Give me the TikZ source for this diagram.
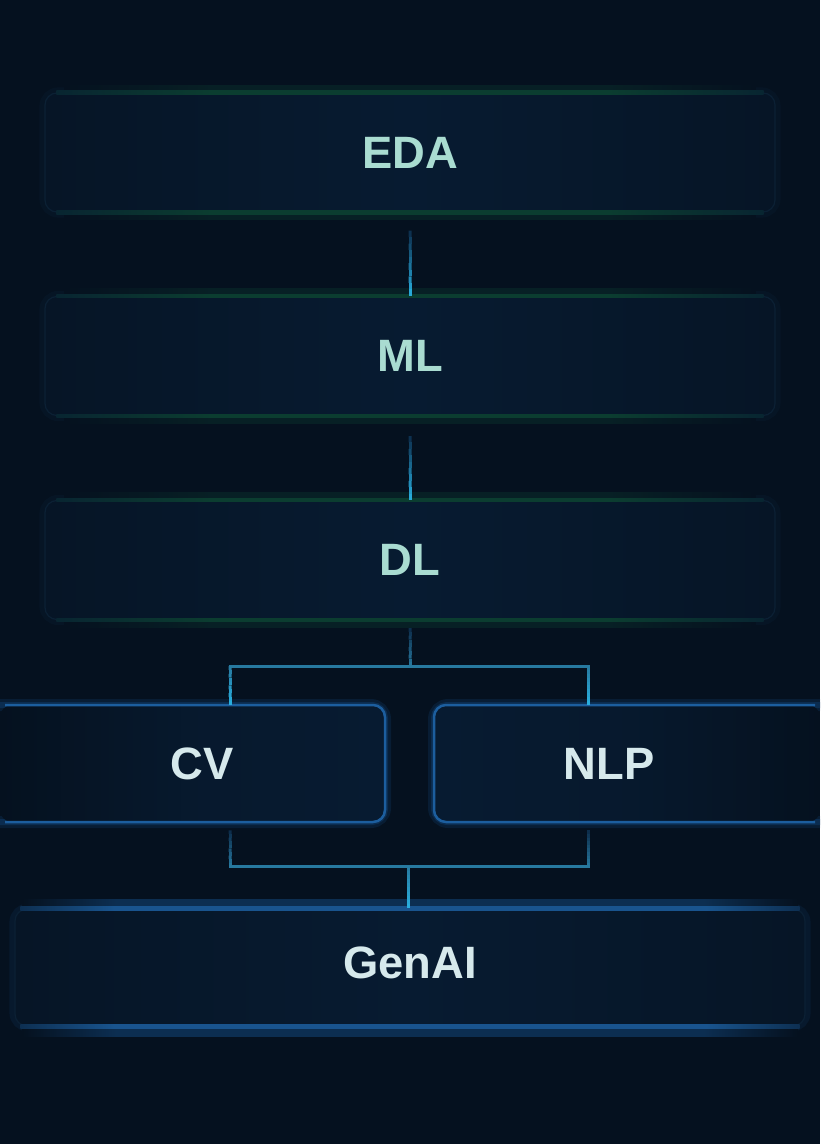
\documentclass[tikz,border=0pt]{standalone}
\usepackage{fontspec}
\setmainfont{Liberation Sans}
\usetikzlibrary{calc}
\definecolor{bg}{HTML}{05111F}
\definecolor{boxe}{HTML}{061526}
\definecolor{boxc}{HTML}{071B31}
\definecolor{boxline}{HTML}{0B2034}
\definecolor{grn}{HTML}{0B3D30}
\definecolor{mint}{HTML}{A9DCD1}
\definecolor{lighttxt}{HTML}{D6E9EC}
\definecolor{bborder}{HTML}{1C5E9E}
\definecolor{bglow}{HTML}{0F3A66}
\definecolor{cdark}{HTML}{0C2A48}
\definecolor{cmid}{HTML}{27799F}
\definecolor{cbright}{HTML}{29B0E0}
\colorlet{grnglow}{grn!35!bg}
\colorlet{grnedge}{grn!30!boxc}
\colorlet{bband}{bborder!85!boxc}
\colorlet{bbandedge}{bborder!30!boxc}
\colorlet{bglowband}{bglow!70!bg}
\pgfdeclarehorizontalshading{gbandsh}{100bp}{color(0bp)=(grnedge); color(25bp)=(grnedge); color(36bp)=(grn); color(64bp)=(grn); color(75bp)=(grnedge); color(100bp)=(grnedge)}
\pgfdeclarehorizontalshading{gglowsh}{100bp}{color(0bp)=(bg); color(25bp)=(bg); color(36bp)=(grnglow); color(64bp)=(grnglow); color(75bp)=(bg); color(100bp)=(bg)}
\pgfdeclarehorizontalshading{bbandsh}{100bp}{color(0bp)=(bbandedge); color(25bp)=(bbandedge); color(31bp)=(bband); color(69bp)=(bband); color(75bp)=(bbandedge); color(100bp)=(bbandedge)}
\pgfdeclarehorizontalshading{bglowsh}{100bp}{color(0bp)=(bg); color(25bp)=(bg); color(31bp)=(bglowband); color(69bp)=(bglowband); color(75bp)=(bg); color(100bp)=(bg)}
\def\px{0.75pt}
\pgfdeclarelayer{bgl}
\pgfdeclarelayer{glow}
\pgfdeclarelayer{boxl}
\pgfsetlayers{bgl,glow,boxl,main}
\newcommand\gline[4]{%
  \foreach \i in {0,...,9}{%
    \pgfmathsetmacro\aa{\i/10}%
    \pgfmathsetmacro\bb{(\i+1)/10}%
    \pgfmathtruncatemacro\mm{\i*10+5}%
    \draw[line width=3*\px, draw={#4!\mm!#3}] ($(#1)!\aa!(#2)$) -- ($(#1)!\bb!(#2)$);
  }%
}
\tikzset{
  lbl/.style={inner sep=0pt, font=\fontsize{34}{36}\selectfont\bfseries},
  topbox/.style={lbl, text=mint, minimum width=730*\px, minimum height=119*\px,
    rounded corners=12*\px, shade, left color=boxe, right color=boxe, middle color=boxc,
    draw=boxline, line width=1.2*\px},
  sidebox/.style={lbl, text=lighttxt, minimum height=117*\px},
  genbox/.style={lbl, text=lighttxt, minimum width=790*\px, minimum height=117*\px,
    rounded corners=12*\px, shade, left color=boxe, right color=boxe, middle color=boxc,
    draw=boxline, line width=1.2*\px},
  hline/.style={line width=3*\px, draw=cmid, line cap=rect},
}
\begin{document}
\begin{tikzpicture}[x=0.75pt,y=-0.75pt]
\begin{pgfonlayer}{bgl}
  \fill[bg] (0,0) rectangle (820,1144);
\end{pgfonlayer}
\useasboundingbox (0,0) rectangle (820,1144);

% nodes
\node[topbox] (eda) at (410,152.5) {EDA};
\node[topbox] (ml) at (410,356) {ML};
\node[topbox] (dl) at (410,560) {DL};
\node[sidebox, minimum width=366*\px] (cv) at (202,763.5) {CV};
\node[sidebox, minimum width=350*\px] (nlp) at (609,763.5) {NLP};
\node[genbox] (gen) at (410,967.5) {GenAI\vphantom{p}};

% glows and bands of the top boxes
\foreach \n in {eda,ml,dl}{
  \begin{pgfonlayer}{glow}
    \draw[rounded corners=14*\px, line width=10*\px, draw=boxline, opacity=0.3]
      (\n.north west) rectangle (\n.south east);
    \shade[shading=gglowsh] ($(\n.north west)+(20,-7)$) rectangle ($(\n.north east)+(-20,0)$);
    \shade[shading=gglowsh] ($(\n.south west)+(20,0)$) rectangle ($(\n.south east)+(-20,7)$);
  \end{pgfonlayer}
  \shade[shading=gbandsh] ($(\n.north west)+(12,-1.8)$) rectangle ($(\n.north east)+(-12,1.8)$);
  \shade[shading=gbandsh] ($(\n.south west)+(12,-1.8)$) rectangle ($(\n.south east)+(-12,1.8)$);
}

% CV and NLP boxes
\begin{pgfonlayer}{glow}
  \draw[rounded corners=14*\px, line width=12*\px, draw=bglow, opacity=0.3]
    (0,705) -- (385,705) -- (385,822) -- (0,822);
  \draw[rounded corners=14*\px, line width=12*\px, draw=bglow, opacity=0.3]
    (820,705) -- (434,705) -- (434,822) -- (820,822);
  \draw[rounded corners=13*\px, line width=6*\px, draw=bglow, opacity=0.55]
    (0,705) -- (385,705) -- (385,822) -- (0,822);
  \draw[rounded corners=13*\px, line width=6*\px, draw=bglow, opacity=0.55]
    (820,705) -- (434,705) -- (434,822) -- (820,822);
\end{pgfonlayer}
\begin{pgfonlayer}{boxl}
  \shade[rounded corners=12*\px, left color=bg, right color=boxc, middle color=boxc!80!bg]
    (0,705) rectangle (385,822);
  \shade[rounded corners=12*\px, left color=boxc, right color=bg, middle color=boxc!80!bg]
    (434,705) rectangle (820,822);
  \draw[rounded corners=12*\px, line width=2.5*\px, draw=bborder]
    (5,705) -- (385,705) -- (385,822) -- (5,822);
  \draw[rounded corners=12*\px, line width=2.5*\px, draw=bborder]
    (815,705) -- (434,705) -- (434,822) -- (815,822);
\end{pgfonlayer}

% GenAI bands
\begin{pgfonlayer}{glow}
  \draw[rounded corners=14*\px, line width=10*\px, draw=bglow, opacity=0.2]
    (gen.north west) rectangle (gen.south east);
  \shade[shading=bglowsh] ($(gen.north west)+(8,-9)$) rectangle ($(gen.north east)+(-8,0)$);
  \shade[shading=bglowsh] ($(gen.south west)+(8,0)$) rectangle ($(gen.south east)+(-8,10)$);
\end{pgfonlayer}
\shade[shading=bbandsh] ($(gen.north west)+(6,-1.8)$) rectangle ($(gen.north east)+(-6,1.8)$);
\shade[shading=bbandsh] ($(gen.south west)+(6,-1.8)$) rectangle ($(gen.south east)+(-6,1.8)$);

% connectors
\coordinate (e1) at ($(eda.south)+(0,18)$);
\gline{e1}{ml.north}{cdark}{cbright}
\coordinate (m1) at ($(ml.south)+(0,20)$);
\gline{m1}{dl.north}{cdark}{cbright}

\coordinate (d1) at ($(dl.south)+(0,8)$);
\coordinate (split) at ($(dl.south)+(0,46)$);
\coordinate (cvN) at ($(cv.north)+(28,0)$);
\coordinate (nlpN) at ($(nlp.north)+(-21,0)$);
\coordinate (sl) at (cvN |- split);
\coordinate (sr) at (nlpN |- split);
\gline{d1}{split}{cdark}{cmid}
\draw[hline] (sl) -- (sr);
\gline{sl}{cvN}{cmid}{cbright}
\gline{sr}{nlpN}{cmid}{cbright}

\coordinate (cvS) at ($(cv.south)+(28,8)$);
\coordinate (nlpS) at ($(nlp.south)+(-21,8)$);
\coordinate (merge) at ($(gen.north)+(-2,-42)$);
\coordinate (bl) at (cvS |- merge);
\coordinate (br) at (nlpS |- merge);
\coordinate (genN) at (merge |- gen.north);
\gline{cvS}{bl}{cdark}{cmid}
\gline{nlpS}{br}{cdark}{cmid}
\draw[hline] (bl) -- (br);
\gline{merge}{genN}{cmid}{cbright}
\end{tikzpicture}
\end{document}
